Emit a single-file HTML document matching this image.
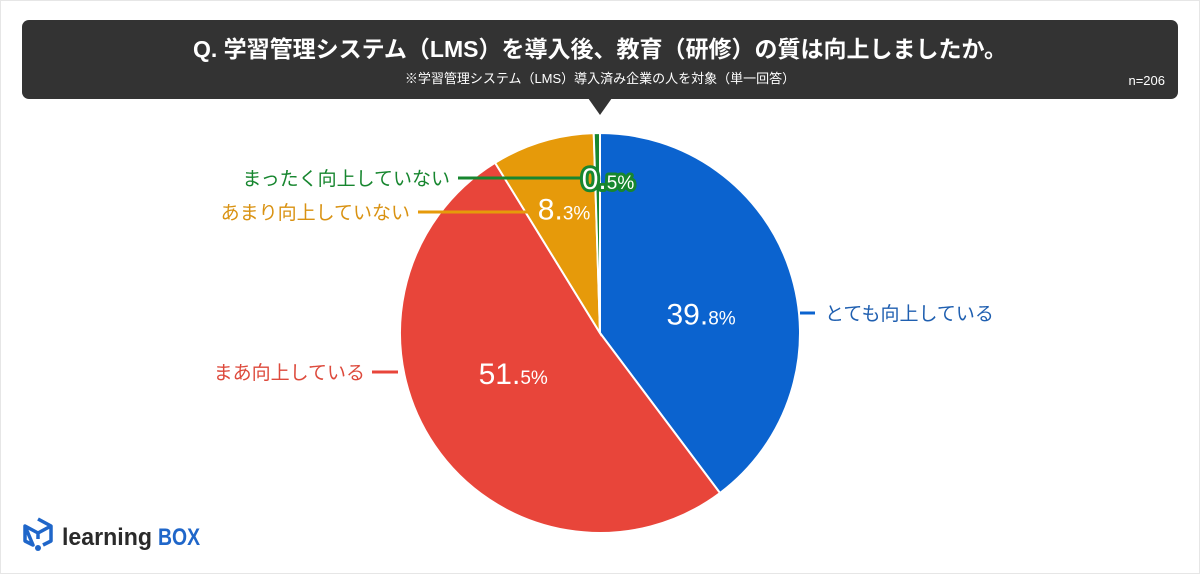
<!DOCTYPE html>
<html><head><meta charset="utf-8">
<style>
html,body{margin:0;padding:0;background:#fff;}
body{width:1200px;height:574px;overflow:hidden;font-family:"Liberation Sans","Noto Sans CJK JP",sans-serif;}
svg text{font-family:"Liberation Sans","Noto Sans CJK JP",sans-serif;}
</style></head>
<body>
<svg id="chart" width="1200" height="574" viewBox="0 0 1200 574">
  <rect x="0.5" y="0.5" width="1199" height="573" fill="#fff" stroke="#e6e6e6"/>
  <g>
    <rect x="22" y="20" width="1156" height="79" rx="7" fill="#333333"/>
    <polygon points="588,98 612,98 600,115" fill="#333333"/>
    <text x="600" y="57" text-anchor="middle" fill="#fff" font-size="23" font-weight="bold">Q. 学習管理システム（LMS）を導入後、教育（研修）の質は向上しましたか。</text>
    <text x="600" y="83" text-anchor="middle" fill="#fff" font-size="13">※学習管理システム（LMS）導入済み企業の人を対象（単一回答）</text>
    <text x="1165" y="85" text-anchor="end" fill="#fff" font-size="13">n=206</text>
  </g>
  <g id="slices"></g>
  <g id="labels"></g>
  <g>
    <g transform="translate(38,533)" fill="none" stroke="#1f66c9" stroke-width="3.5" stroke-linejoin="round">
      <path d="M0,-14 L13,-7 L13,8 L5,12 M-5,12 L-13,8 L-13,-7 Z M-13,-7 L0,0 L13,-7 M0,0 L0,6"/>
    </g>
    <circle cx="38" cy="548" r="3" fill="#1f66c9"/>
    <text x="62" y="545" font-size="24" font-weight="bold" fill="#2a2a2a" textLength="90" lengthAdjust="spacingAndGlyphs">learning</text>
    <text x="158" y="545" font-size="24" font-weight="bold" fill="#1f66c9" textLength="42" lengthAdjust="spacingAndGlyphs">BOX</text>
  </g>
</svg>
<script>
const categories = ["とても向上している","まあ向上している","あまり向上していない","まったく向上していない"];
const values = [39.8, 51.5, 8.3, 0.5];
const colors = ["#0b63cf","#e8453a","#e69a0a","#17862f"];
const textColors = ["#1f5fb0","#dd4a3c","#d99212","#17862f"];

const NS="http://www.w3.org/2000/svg";
const cx=600, cy=333, R=200;
const total=values.reduce((a,b)=>a+b,0);
function pt(frac,r){const a=frac*2*Math.PI;return [cx+r*Math.sin(a), cy-r*Math.cos(a)];}
const sg=document.getElementById('slices'), lg=document.getElementById('labels');
let acc=0;
const mids=[];
values.forEach((v,i)=>{
  const f0=acc/total, f1=(acc+v)/total; acc+=v;
  const [x0,y0]=pt(f0,R),[x1,y1]=pt(f1,R);
  const large=(f1-f0)>0.5?1:0;
  const p=document.createElementNS(NS,'path');
  p.setAttribute('d',`M${cx},${cy} L${x0},${y0} A${R},${R} 0 ${large} 1 ${x1},${y1} Z`);
  p.setAttribute('fill',colors[i]);p.setAttribute('stroke','#fff');p.setAttribute('stroke-width','2');
  
  
  sg.appendChild(p);
  mids.push((f0+f1)/2);
});
function txt(x,y,s,attrs,parent){const t=document.createElementNS(NS,'text');t.setAttribute('x',x);t.setAttribute('y',y);for(const k in attrs)t.setAttribute(k,attrs[k]);t.innerHTML=s;(parent||lg).appendChild(t);return t;}
function line(x1,y1,x2,y2,c){const l=document.createElementNS(NS,'line');l.setAttribute('x1',x1);l.setAttribute('y1',y1);l.setAttribute('x2',x2);l.setAttribute('y2',y2);l.setAttribute('stroke',c);l.setAttribute('stroke-width','3');
  
  
  lg.appendChild(l);}
function pctHTML(v){const s=v.toFixed(1).split('.');return `${s[0]}.<tspan font-size="19">${s[1]}%</tspan>`;}
const catLayout=[
  {lx1:800,ly:313,lx2:815,tx:825,anchor:'start'},
  {lx1:372,ly:372,lx2:398,tx:365,anchor:'end'},
  {lx1:418,ly:212,lx2:530,tx:410,anchor:'end'},
  {lx1:458,ly:178,lx2:585,tx:450,anchor:'end'}
];
categories.forEach((c,i)=>{
  const L=catLayout[i];
  line(L.lx1,L.ly,L.lx2,L.ly,colors[i]);
  const t=txt(L.tx,L.ly+7,c,{'font-size':'19','fill':textColors[i],'text-anchor':L.anchor});
  
  
});
const pctR=[115,105,125,0];
values.forEach((v,i)=>{
  let x,y;
  if(i===3){x=608;y=189;}
  else{[x,y]=pt(mids[i],pctR[i]);y+=10; if(i===0){x-=8;y+=18;} if(i===1){y-=18;} if(i===2){y-=4;}}
  const attrs={'font-size':'30','fill':'#fff','text-anchor':'middle'};
  if(i===3){attrs.stroke=colors[3];attrs['stroke-width']='6';attrs['paint-order']='stroke';attrs['stroke-linejoin']='round';}
  const t=txt(x,y,pctHTML(v),attrs);
  
  
});
</script>
</body></html>
